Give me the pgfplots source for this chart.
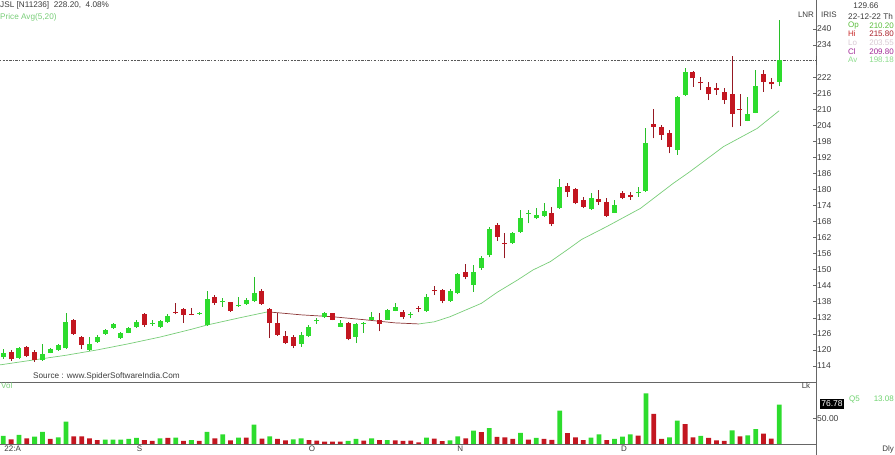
\documentclass[border=0pt]{standalone}
\usepackage{fontspec}
\setmainfont{Liberation Sans}
\usepackage{pgfplots}
\usepackage{pgfplotstable}
\pgfplotsset{compat=1.18}
\definecolor{cgreen}{RGB}{45,220,45}
\definecolor{cgreenw}{RGB}{40,190,40}
\definecolor{cred}{RGB}{195,22,32}
\definecolor{credw}{RGB}{150,25,35}
\definecolor{magreen}{RGB}{120,205,120}
\definecolor{mared}{RGB}{140,55,55}
\definecolor{txt}{RGB}{60,60,60}

% i open high low close
\pgfplotstableread{
i o h l c
0 117.3 120.2 116.7 118.7
2 116.9 121.2 116.5 120.6
5 116.3 122.2 115.9 118.5
6 119.0 120.7 118.7 120.2
7 120.0 122.2 119.7 121.7
8 120.6 133.7 120.4 130.6
11 120.0 125.0 119.6 122.2
12 123.0 125.5 122.7 125.0
13 126.0 127.8 125.7 127.5
14 128.1 130.1 127.8 129.7
15 124.4 126.6 124.1 126.2
16 126.5 128.7 126.2 128.2
17 128.5 131.0 128.1 130.6
19 129.7 131.0 129.0 130.1
20 128.7 131.2 128.1 130.8
21 130.3 133.3 130.0 132.7
25 133.5 134.3 133.1 133.9
26 129.3 142.2 129.0 138.9
28 137.9 139.3 136.2 138.3
30 136.3 139.7 136.0 136.8
31 137.1 139.3 136.8 138.7
32 138.4 147.4 138.0 141.2
38 122.2 126.8 121.2 125.6
39 125.2 129.3 125.0 128.7
40 130.7 131.8 129.7 131.0
41 132.2 134.3 132.0 133.9
43 128.7 131.0 128.4 129.9
45 125.0 130.2 122.5 129.7
46 129.5 130.6 126.5 129.8
47 131.2 134.3 131.0 132.4
49 131.2 135.3 131.0 135.0
50 134.7 137.4 134.4 136.2
52 132.9 134.0 131.8 133.2
54 134.7 140.9 134.3 139.7
57 138.4 142.7 138.0 142.2
58 141.2 148.9 140.8 148.4
60 144.3 151.7 141.8 149.3
61 150.5 155.1 149.9 154.2
62 155.5 166.1 154.6 165.1
65 159.8 164.0 159.6 163.6
66 164.2 172.3 163.8 169.2
67 170.8 172.3 167.3 171.1
68 169.2 172.9 168.9 170.4
69 170.1 174.8 169.8 171.9
71 172.9 183.8 172.7 181.0
75 172.6 178.5 172.3 176.7
78 171.3 176.1 171.1 174.2
81 178.5 181.0 177.3 178.9
82 179.5 202.8 179.2 197.5
86 194.7 214.9 192.9 214.4
87 215.3 225.2 214.9 224.0
95 205.7 214.4 205.4 208.2
96 208.7 224.6 208.4 218.6
99 220.3 243.5 218.5 228.2
}\up

\pgfplotstableread{
i o h l c
1 119.4 120.0 116.0 116.5
3 121.0 121.5 117.3 117.7
4 119.4 120.0 115.5 116.3
9 131.0 131.4 125.7 126.0
10 125.0 125.3 120.2 121.9
18 133.3 133.7 128.7 129.3
22 134.2 137.7 133.3 133.8
23 135.2 135.6 130.2 133.1
24 133.6 135.6 132.9 133.2
27 139.9 140.5 136.8 137.4
29 137.8 138.0 134.3 134.7
33 142.2 142.7 136.9 137.2
34 135.2 135.6 124.4 130.0
35 130.2 133.7 125.2 125.6
36 125.2 127.2 122.2 122.5
37 125.0 125.6 120.6 121.5
42 133.7 133.9 131.0 131.2
44 130.2 130.5 123.6 124.0
48 131.2 133.7 126.9 129.7
51 134.3 135.0 131.5 132.4
53 135.8 136.4 134.0 135.4
55 142.4 143.9 140.5 142.0
56 142.4 142.7 137.4 138.4
59 149.3 152.1 146.4 147.4
63 166.7 167.6 160.8 162.3
64 160.0 163.6 154.2 159.6
70 171.3 173.6 166.3 166.9
72 181.3 182.5 177.3 179.2
73 180.0 180.4 174.4 174.8
74 176.1 177.3 172.9 173.6
76 176.3 179.8 174.2 175.4
77 175.4 176.7 169.6 170.1
79 178.8 179.5 176.3 176.7
80 177.9 179.2 176.1 177.3
83 204.4 209.9 199.1 203.4
84 203.4 204.1 198.5 200.3
85 201.2 202.2 193.5 195.7
88 224.0 224.4 218.4 221.5
89 220.3 221.9 217.1 219.6
90 218.4 220.3 213.4 215.7
91 217.8 219.6 215.3 217.1
92 216.5 217.8 211.9 213.4
93 215.7 229.9 203.2 208.2
94 210.2 215.8 203.55 209.8
97 223.1 224.6 216.5 220.3
98 220.3 221.5 217.4 219.25
}\down

% volume (lakh)
\pgfplotstableread{
i v
0 15.7
2 17.6
4 14.4
5 23.5
7 13
8 43.8
13 8.5
14 8.5
15 8.5
16 9.8
17 11.8
20 11.1
22 12.4
24 7.8
26 23.5
28 19
30 12.4
32 37.9
34 15
37 9.2
38 11.1
44 5.9
45 9.8
47 11.1
49 7.8
54 12.4
57 7
58 15
60 26
62 31
66 21.5
68 12
71 65
75 12.4
76 19
78 9.8
79 14.4
80 19
82 99
85 13
86 45.7
89 15.7
93 26.8
95 17
96 28.8
99 76.78
}\volg

\pgfplotstableread{
i v
1 9.2
3 11.1
6 9.8
9 15
10 15
11 11
12 7.8
18 7.8
19 5.9
21 11.8
23 5.9
25 5.9
27 11.1
29 7.2
31 12.4
33 10.5
35 9.8
36 7.2
39 7.8
40 6.5
41 4.6
42 4.6
43 4.6
46 6.5
48 7.8
50 7.2
51 5.9
52 6.5
53 3.3
55 10.5
56 5.5
59 11
61 23
63 14
64 13
65 10
67 8.5
69 10
70 8
72 21
73 13
74 7.8
77 7.8
81 16.3
83 59
84 9.8
87 38.6
88 13
90 11.8
91 7.2
92 5.9
94 15
97 20.3
98 10.5
}\volr

\begin{document}
\begin{tikzpicture}[x=1pt,y=1pt]
\useasboundingbox (0,0) rectangle (895,455);

% ---------- price panel ----------
\begin{axis}[
  at={(0pt,73pt)}, anchor=south west,
  width=816pt, height=382pt, scale only axis,
  xmin=-0.42, xmax=103.7, ymin=108.0, ymax=250.8,
  axis x line*=bottom, axis y line*=right,
  axis line style={-, draw=black!60, line width=0.6pt},
  xtick=\empty,
  ytick={114,120,126,132,138,144,150,156,162,168,174,180,186,192,198,204,210,216,222,234,240},
  /pgf/number format/assume math mode=true,
  yticklabel style={font=\fontsize{8.5}{9}\selectfont, text=txt, inner sep=1pt},
  tick style={draw=black!60, line width=0.5pt},
  major tick length=3.5pt, tick align=inside,
]
% moving average
\addplot[magreen, line width=0.7pt] coordinates {(-0.42,114.4) (4,116.3) (8,118.0) (12,120.0) (16,122.3) (20,124.8) (24,127.7) (26,129.3) (30,131.9) (33.7,134.2)};
\addplot[mared, line width=0.7pt] coordinates {(33.7,134.2) (35,133.9) (38,133.1) (42,132.4) (46,131.3) (50,130.1) (53,129.7)};
\addplot[magreen, line width=0.7pt] coordinates {(53,129.7) (55,130.5) (57,132.4) (59,134.9) (61,137.4) (63,141.5) (65.6,146.1) (67.6,149.9) (69.8,153.0) (72,157.5) (73.8,161.3) (77,166.1) (81.3,172.9) (85.5,182.3) (87.6,186.6) (91.9,196.0) (96.2,202.8) (99,209.4)};
% last price line
\addplot[black!65, line width=0.5pt, dash pattern=on 1.2pt off 1.3pt on 2.6pt off 1.3pt] coordinates {(-0.42,228.2) (103.7,228.2)};
% wicks
\addplot[draw=none, mark=none, error bars/.cd, y dir=plus, y explicit, error mark=none,
  error bar style={draw=cgreenw, line width=0.9pt}]
  table[x=i, y=l, y error plus expr={\thisrow{h}-\thisrow{l}}] {\up};
\addplot[draw=none, mark=none, error bars/.cd, y dir=plus, y explicit, error mark=none,
  error bar style={draw=credw, line width=0.9pt}]
  table[x=i, y=l, y error plus expr={\thisrow{h}-\thisrow{l}}] {\down};
% bodies
\addplot[draw=none, mark=none, error bars/.cd, y dir=plus, y explicit, error mark=none,
  error bar style={draw=cgreen, line width=5pt}]
  table[x=i, y=o, y error plus expr={max(\thisrow{c}-\thisrow{o},0.4)}] {\up};
\addplot[draw=none, mark=none, error bars/.cd, y dir=plus, y explicit, error mark=none,
  error bar style={draw=cred, line width=5pt}]
  table[x=i, y=c, y error plus expr={max(\thisrow{o}-\thisrow{c},0.4)}] {\down};
\node[fill=black, text=white, anchor=west, inner sep=1.6pt, font=\fontsize{8.5}{9}\selectfont] at (axis cs:103.7,228.2) {228.20};
\end{axis}

% ---------- volume panel ----------
\begin{axis}[
  at={(0pt,11pt)}, anchor=south west,
  width=816pt, height=62pt, scale only axis,
  xmin=-0.42, xmax=103.7, ymin=0, ymax=121,
  axis x line*=bottom, axis y line*=right,
  axis line style={-, draw=black!60, line width=0.6pt},
  xtick={1.2,17.4,39.4,58.3,79.2},
  xticklabels={22:A,S,O,N,D},
  xtick style={draw=none},
  xticklabel style={font=\fontsize{8}{9}\selectfont, text=txt, anchor=north, inner sep=0pt, yshift=-1.5pt},
  ytick={50}, yticklabels={50.00},
  yticklabel style={font=\fontsize{8.5}{9}\selectfont, text=txt, inner sep=1pt},
  ytick style={draw=black!60, line width=0.5pt},
  major tick length=3.5pt, tick align=inside,
]
\addplot[ybar, bar width=4.8pt, bar shift=0pt, fill=cgreen, draw=none] table[x=i, y=v] {\volg};
\addplot[ybar, bar width=4.8pt, bar shift=0pt, fill=cred, draw=none] table[x=i, y=v] {\volr};
\end{axis}

\draw[black!60, line width=0.6pt] (816,0) -- (816,11);

% ---------- texts ----------
\node[anchor=west, inner sep=0, text=txt, font=\fontsize{8.2}{9}\selectfont] at (0,450) {JSL [N11236]\ \ 228.20,\ \ 4.08\%};
\node[anchor=west, inner sep=0, text=magreen, font=\fontsize{8.2}{9}\selectfont] at (0,438) {Price Avg(5,20)};
\node[anchor=west, inner sep=0, text=txt, font=\fontsize{8.2}{9}\selectfont] at (33,79) {Source : www.SpiderSoftwareIndia.Com};

\node[inner sep=0, text=txt, font=\fontsize{8}{9}\selectfont] at (806,440) {LNR};
\node[inner sep=0, text=txt, font=\fontsize{8}{9}\selectfont] at (829,440) {IRIS};
\node[inner sep=0, text=txt, font=\fontsize{8.2}{9}\selectfont] at (866,449) {129.66};
\node[anchor=west, inner sep=0, text=txt, font=\fontsize{8.2}{9}\selectfont] at (848,438) {22-12-22 Th};
\begin{scope}[every node/.style={inner sep=0, font=\fontsize{8}{9}\selectfont}]
\node[anchor=west, text={rgb,255:red,90;green,190;blue,60}] at (848,429) {Op};
\node[anchor=east, text={rgb,255:red,90;green,190;blue,60}] at (894,429) {210.20};
\node[anchor=west, text={rgb,255:red,200;green,40;blue,40}] at (848,421) {Hi};
\node[anchor=east, text={rgb,255:red,170;green,30;blue,40}] at (894,421) {215.80};
\node[anchor=west, text={rgb,255:red,215;green,200;blue,210}] at (848,412) {Lo};
\node[anchor=east, text={rgb,255:red,215;green,200;blue,210}] at (894,412) {203.55};
\node[anchor=west, text={rgb,255:red,160;green,40;blue,150}] at (848,403) {Cl};
\node[anchor=east, text={rgb,255:red,160;green,40;blue,150}] at (894,403) {209.80};
\node[anchor=west, text={rgb,255:red,140;green,220;blue,140}] at (848,395) {Av};
\node[anchor=east, text={rgb,255:red,140;green,220;blue,140}] at (894,395) {198.18};
\end{scope}

\node[anchor=west, inner sep=0, text=magreen, font=\fontsize{8}{9}\selectfont] at (1,69) {Vol};
\node[inner sep=0, text=txt, font=\fontsize{8}{9}\selectfont] at (806,69) {Lk};
\node[fill=black, text=white, inner sep=1.5pt, font=\fontsize{8.5}{9}\selectfont] at (832,51) {76.78};
\node[anchor=west, inner sep=0, text={rgb,255:red,110;green,210;blue,110}, font=\fontsize{8}{9}\selectfont] at (849,56) {Q5};
\node[anchor=east, inner sep=0, text={rgb,255:red,110;green,210;blue,110}, font=\fontsize{8}{9}\selectfont] at (894,56) {13.08};
\node[anchor=east, inner sep=0, text=txt, font=\fontsize{8}{9}\selectfont] at (894,6) {Dly};
\end{tikzpicture}
\end{document}
